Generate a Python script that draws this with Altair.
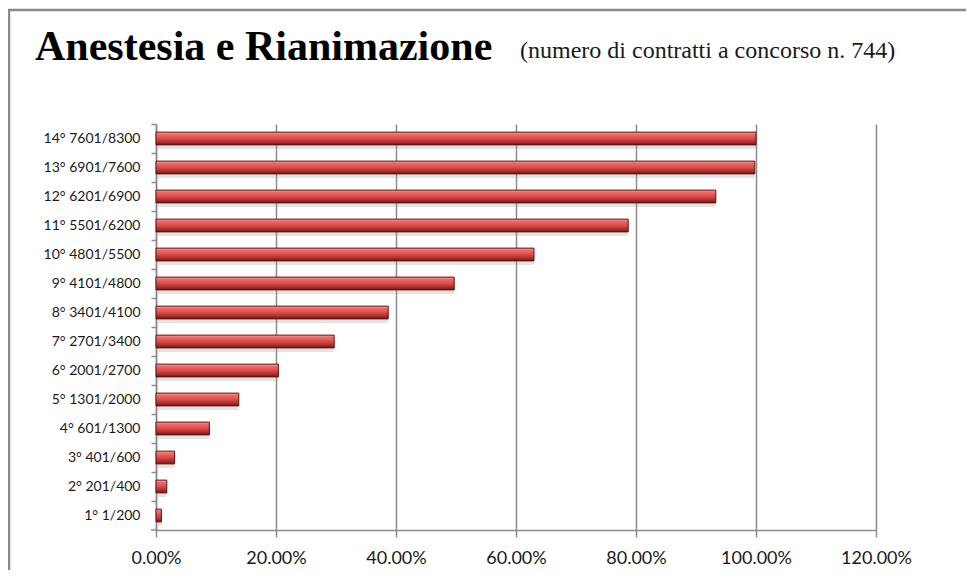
import altair as alt
import pandas as pd

categories = ["14° 7601/8300", "13° 6901/7600", "12° 6201/6900", "11° 5501/6200",
              "10° 4801/5500", "9° 4101/4800", "8° 3401/4100", "7° 2701/3400",
              "6° 2001/2700", "5° 1301/2000", "4° 601/1300", "3° 401/600",
              "2° 201/400", "1° 1/200"]
shares = [1.000, 0.998, 0.933, 0.787, 0.630, 0.497, 0.387, 0.297,
          0.204, 0.138, 0.089, 0.031, 0.018, 0.009]
x_ticks = [0.0, 0.2, 0.4, 0.6, 0.8, 1.0, 1.2]
title_text = "Anestesia e Rianimazione"
subtitle_text = "(numero di contratti a concorso n. 744)"

df = pd.DataFrame({"fascia": categories, "quota": shares})

x_enc = alt.X("quota:Q",
              scale=alt.Scale(domain=[0, 1.2], nice=False, zero=True),
              axis=alt.Axis(values=x_ticks, format=".2%", title=None,
                            labelFont="Lato", labelFontSize=18, labelColor="#1a1a1a",
                            labelPadding=12, labelFlush=False, tickSize=7,
                            tickColor="#8c8c8c", domainColor="#8c8c8c",
                            domainWidth=1.5, tickWidth=1.5,
                            grid=True, gridColor="#8c8c8c", gridWidth=1.5))
y_enc = alt.Y("fascia:N", sort=categories,
              scale=alt.Scale(paddingInner=0, paddingOuter=0),
              axis=alt.Axis(title=None, labelFont="Lato", labelFontSize=14,
                            labelColor="#1a1a1a", labelPadding=11, tickSize=5,
                            tickColor="#8c8c8c", tickWidth=1.5, bandPosition=0,
                            domainColor="#8c8c8c", domainWidth=1.5, grid=False))

shadow = alt.Chart(df).mark_bar(
    height={"band": 0.44}, color="#9a9a9a", opacity=0.28, yOffset=4, xOffset=2,
    cornerRadius=2
).encode(x=x_enc, y=y_enc)

bars = alt.Chart(df).mark_bar(
    height={"band": 0.44},
    color=alt.Gradient(
        gradient="linear", x1=0, x2=0, y1=0, y2=1,
        stops=[alt.GradientStop(offset=0, color="#f4a3a3"),
               alt.GradientStop(offset=0.18, color="#f06a6a"),
               alt.GradientStop(offset=0.5, color="#dd4a4a"),
               alt.GradientStop(offset=0.8, color="#a82c2c"),
               alt.GradientStop(offset=1, color="#6e1616")]),
    stroke="#5e1212", strokeWidth=1
).encode(x=x_enc, y=y_enc)

one = alt.Data(values=[{"k": 1}])
bottom_tick = alt.Chart(one).mark_rule(color="#8c8c8c", strokeWidth=1.5).encode(
    x=alt.value(-5), x2=alt.value(0), y=alt.value(406))

title = alt.Chart(one).mark_text(
    align="left", baseline="alphabetic", font="Liberation Serif",
    fontSize=42, fontWeight="bold", color="#000000"
).encode(x=alt.value(-121), y=alt.value(-64), text=alt.value(title_text))

subtitle = alt.Chart(one).mark_text(
    align="left", baseline="alphabetic", font="Liberation Serif",
    fontSize=24, color="#1a1a1a"
).encode(x=alt.value(364), y=alt.value(-66), text=alt.value(subtitle_text))

frame_style = dict(color="#8a8a8a", strokeWidth=2.5)
frame_top = alt.Chart(one).mark_rule(**frame_style).encode(
    x=alt.value(-148), x2=alt.value(813), y=alt.value(-114))
frame_left = alt.Chart(one).mark_rule(**frame_style).encode(
    x=alt.value(-147), y=alt.value(-115), y2=alt.value(460))
frame_right = alt.Chart(one).mark_rule(**frame_style).encode(
    x=alt.value(813), y=alt.value(-115), y2=alt.value(460))

chart = alt.layer(shadow, bars, bottom_tick, title, subtitle,
                  frame_top, frame_left, frame_right).properties(
    width=720, height=406,
    autosize=alt.AutoSizeParams(type="none"),
    padding={"left": 148, "top": 116, "right": 90, "bottom": 40},
    background="white"
).configure_view(stroke=None)

chart.save("out.html", embed_options={"renderer": "svg", "actions": False})
